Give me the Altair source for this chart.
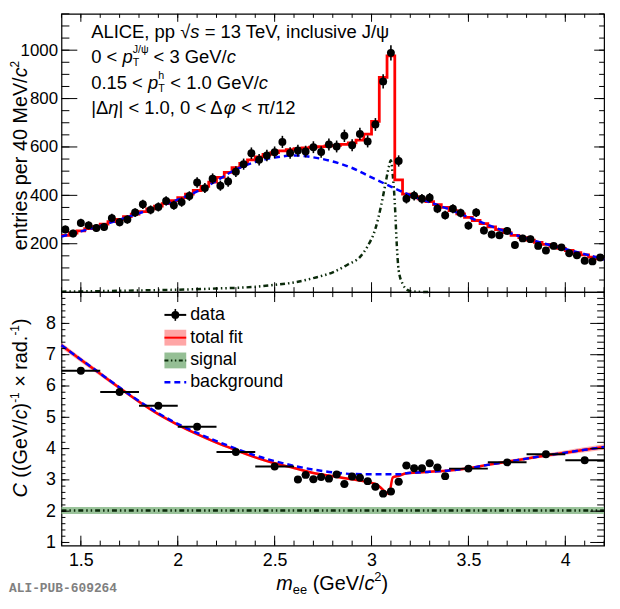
import altair as alt
import pandas as pd
import numpy as np

FONT = "Liberation Sans"
W = 548
H1 = 281
H2 = 256

# ---------------- upper panel data ----------------
centers = [1.42, 1.46, 1.50, 1.54, 1.58, 1.62, 1.66, 1.70, 1.74, 1.78, 1.82, 1.86, 1.90, 1.94, 1.98,
           2.02, 2.06, 2.10, 2.14, 2.18, 2.22, 2.26, 2.30, 2.34, 2.38, 2.42, 2.46, 2.50, 2.54, 2.58,
           2.62, 2.66, 2.70, 2.74, 2.78, 2.82, 2.86, 2.90, 2.94, 2.98,
           3.02, 3.06, 3.10, 3.14, 3.18, 3.22, 3.26, 3.30, 3.34, 3.38, 3.42, 3.46, 3.50, 3.54, 3.58,
           3.62, 3.66, 3.70, 3.74, 3.78, 3.82, 3.86, 3.90, 3.94, 3.98,
           4.02, 4.06, 4.10, 4.14, 4.18]
counts = [259, 242, 286, 276, 265, 269, 306, 289, 300, 329, 363, 340, 352, 377, 359,
          372, 397, 453, 430, 469, 440, 457, 498, 529, 574, 547, 565, 578, 621, 575,
          585, 581, 599, 579, 610, 602, 646, 607, 654, 623,
          693, 871, 989, 542, 386, 399, 386, 390, 345, 318, 345, 327, 275, 329, 255,
          238, 235, 253, 195, 222, 219, 191, 172, 191, 185,
          161, 152, 130, 127, 143]
fit_top = [235, 244, 253, 262, 271, 281, 291, 301, 312, 322, 333, 344, 355, 366, 378,
           391, 405, 420, 437, 455, 474, 495, 515, 532, 547, 559, 569, 577, 584, 589,
           593, 596, 599, 601, 604, 607, 611, 617, 628, 653,
           706, 888, 976, 464, 405, 395, 385, 374, 362, 350, 337, 323, 309, 296, 283,
           270, 258, 246, 235, 225, 215, 206, 197, 189, 181,
           172, 163, 154, 145, 137]
bkg_x = [1.4, 1.5, 1.6, 1.7, 1.8, 1.9, 2.0, 2.1, 2.2, 2.3, 2.4, 2.5, 2.6, 2.7, 2.8,
         2.9, 3.0, 3.1, 3.2, 3.3, 3.4, 3.5, 3.6, 3.7, 3.8, 3.9, 4.0, 4.1, 4.2]
bkg_y = [230, 251, 274, 299, 326, 352, 382, 416, 460, 507, 538, 556, 565, 557, 540,
         513, 474, 436, 400, 372, 342, 310, 278, 248, 222, 199, 178, 157, 135]
sig_x = [1.40, 1.60, 1.80, 2.00, 2.20, 2.40, 2.50, 2.60, 2.70, 2.80, 2.88, 2.94, 2.98, 3.02,
         3.05, 3.07, 3.09, 3.10, 3.11, 3.12, 3.13, 3.14, 3.16, 3.18, 3.20, 3.25, 3.30]
sig_y = [2, 4, 7, 10, 15, 22, 30, 40, 58, 82, 115, 145, 190, 262,
         360, 440, 520, 545, 480, 370, 200, 90, 35, 12, 4, 1, 0]

# ---------------- lower panel data ----------------
c_x = [1.5, 1.7, 1.9, 2.1, 2.3, 2.5,
       2.62, 2.66, 2.70, 2.74, 2.78, 2.82, 2.86, 2.90, 2.94, 2.98,
       3.02, 3.06, 3.10, 3.14, 3.18, 3.22, 3.26, 3.30, 3.34, 3.38,
       3.5, 3.7, 3.9, 4.1]
c_y = [6.49, 5.81, 5.37, 4.70, 3.89, 3.43,
       3.01, 3.16, 3.02, 3.09, 3.04, 3.17, 2.87, 3.11, 3.07, 2.96,
       2.78, 2.56, 2.63, 2.94, 3.46, 3.37, 3.37, 3.53, 3.40, 3.12,
       3.36, 3.56, 3.82, 3.63]
c_dx = [0.1] * 6 + [0.02] * 20 + [0.1] * 4
c_dy = [0.05] * 6 + [0.09] * 20 + [0.05] * 4
fit_x = [1.4, 1.5, 1.6, 1.7, 1.8, 1.9, 2.0, 2.1, 2.2, 2.3, 2.4, 2.5, 2.6, 2.7, 2.8, 2.9,
         2.98, 3.03, 3.06, 3.09, 3.11, 3.14, 3.18, 3.3, 3.4, 3.5, 3.6, 3.7, 3.8, 3.9, 4.0, 4.1, 4.2]
fit_y = [7.30, 6.84, 6.39, 5.94, 5.50, 5.10, 4.76, 4.46, 4.19, 3.95, 3.72, 3.53, 3.38, 3.22, 3.12, 3.02,
         2.93, 2.84, 2.68, 2.55, 3.08, 3.13, 3.21, 3.26, 3.30, 3.37, 3.48, 3.58, 3.68, 3.78, 3.87, 3.96, 4.05]
fit_e = [0.09, 0.08, 0.07, 0.06, 0.05, 0.05, 0.04, 0.04, 0.04, 0.04, 0.04, 0.04, 0.04, 0.04, 0.04, 0.04,
         0.04, 0.04, 0.04, 0.04, 0.04, 0.04, 0.04, 0.04, 0.04, 0.04, 0.04, 0.05, 0.05, 0.06, 0.07, 0.08, 0.09]
bkgC_x = [1.4, 1.5, 1.6, 1.7, 1.8, 1.9, 2.0, 2.1, 2.2, 2.3, 2.4, 2.5, 2.6, 2.7, 2.8,
          2.9, 3.0, 3.1, 3.15, 3.18, 3.3, 3.4, 3.5, 3.6, 3.7, 3.8, 3.9, 4.0, 4.1, 4.2]
bkgC_y = [7.30, 6.85, 6.40, 5.95, 5.52, 5.13, 4.79, 4.50, 4.24, 4.00, 3.78, 3.60, 3.45, 3.33, 3.24,
          3.19, 3.18, 3.18, 3.18, 3.21, 3.26, 3.30, 3.37, 3.48, 3.58, 3.68, 3.78, 3.87, 3.96, 4.05]
sigC_val = 2.02
sigC_lo, sigC_hi = 1.91, 2.13

x_labels = [1.5, 2, 2.5, 3, 3.5, 4]
x_minor = [round(v, 1) for v in np.arange(1.4, 4.2001, 0.1)]
top_y_labels = [200, 400, 600, 800, 1000]
top_y_minor = list(range(50, 1151, 50))
bot_y_labels = [1, 2, 3, 4, 5, 6, 7, 8]
bot_y_minor = [round(v, 1) for v in np.arange(1.0, 9.0001, 0.2)]

# ---------------- scales / axes ----------------
XS = alt.Scale(domain=[1.4, 4.2], nice=False, zero=False)
YS1 = alt.Scale(domain=[0, 1150], nice=False, zero=False)
YS2 = alt.Scale(domain=[0.9, 9.0], nice=False, zero=False)

AX_Y1 = alt.Axis(values=top_y_labels, format="d", ticks=False, domain=False, grid=False,
                 labelFont=FONT, labelFontSize=17, labelColor="black", labelPadding=4, title=None)
AX_Y2 = alt.Axis(values=bot_y_labels, format="d", ticks=False, domain=False, grid=False,
                 labelFont=FONT, labelFontSize=18, labelColor="black", labelPadding=6, title=None)
AX_X2 = alt.Axis(values=x_labels, format="~g", ticks=False, domain=False, grid=False,
                 labelFont=FONT, labelFontSize=18, labelColor="black", labelPadding=6, title=None)


def X1(f):
    return alt.X(f, type="quantitative", scale=XS, axis=None)


def X2(f):
    return alt.X(f, type="quantitative", scale=XS, axis=AX_X2)


def Y1(f):
    return alt.Y(f, type="quantitative", scale=YS1, axis=AX_Y1)


def Y2(f):
    return alt.Y(f, type="quantitative", scale=YS2, axis=AX_Y2)


ONE = pd.DataFrame({"k": [0]})

CW = {' ': .278, '(': .333, ')': .333, ',': .278, '-': .333, '.': .278, '/': .278, '<': .584,
      '=': .584, '|': .26, '×': .584, '√': .549, 'Δ': .668, 'η': .556, 'φ': .68, 'π': .6, 'ψ': .7,
      'A': .667, 'C': .722, 'E': .667, 'G': .778, 'I': .278, 'J': .5, 'L': .556, 'M': .833,
      'T': .611, 'V': .667, 'a': .556, 'b': .556, 'c': .5, 'd': .556, 'e': .556, 'f': .278,
      'g': .556, 'h': .556, 'i': .222, 'k': .5, 'l': .222, 'm': .833, 'n': .556, 'o': .556,
      'p': .556, 'r': .333, 's': .5, 't': .278, 'u': .556, 'v': .5, 'x': .5, 'y': .5}


def tw(s, size):
    return sum(CW.get(ch, .556) for ch in s) * size


def T(x, y, s, size=18, italic=False, angle=0, align="left", color="black", font=FONT, weight="normal"):
    return alt.Chart(ONE).mark_text(
        text=s, font=font, fontSize=size, fontStyle="italic" if italic else "normal",
        fontWeight=weight, align=align, baseline="middle", angle=angle, color=color
    ).encode(x=alt.value(x), y=alt.value(y))


def run(x0, y0, parts, angle=0):
    out = []
    pos = 0.0
    for text, size, italic, shift, adv in parts:
        lead = len(text) - len(text.lstrip(" "))
        off = tw(" " * lead, size)
        shown = text.strip(" ")
        if angle == 0:
            out.append(T(x0 + pos + off, y0 + shift, shown, size, italic))
        else:
            out.append(T(x0 + shift, y0 - pos - off, shown, size, italic, angle=270))
        pos += tw(text, size) if adv is None else adv
    return out


def total(parts):
    return sum(tw(t, s) if a is None else a for t, s, i, sh, a in parts)


def tick_layers(xenc, yenc, H, Lxb, Lxt, Lyl, Lyr, ymaj, ymin):
    out = []

    def xr(vals, y1, y2):
        return alt.Chart(pd.DataFrame({"v": vals})).mark_rule(color="black", strokeWidth=1).encode(
            x=xenc("v"), y=alt.value(y1), y2=alt.value(y2))

    def yr(vals, x1, x2):
        return alt.Chart(pd.DataFrame({"v": vals})).mark_rule(color="black", strokeWidth=1).encode(
            y=yenc("v"), x=alt.value(x1), x2=alt.value(x2))

    out += [xr(x_labels, H, H - Lxb[0]), xr(x_minor, H, H - Lxb[1]),
            xr(x_labels, 0, Lxt[0]), xr(x_minor, 0, Lxt[1])]
    out += [yr(ymaj, 0, Lyl[0]), yr(ymin, 0, Lyl[1]),
            yr(ymaj, W, W - Lyr[0]), yr(ymin, W, W - Lyr[1])]
    return out


# ---------------- upper panel ----------------
err_top = np.sqrt(np.array(counts, dtype=float))
df_top = pd.DataFrame({"x": centers, "y": counts,
                       "lo": np.array(counts) - err_top, "hi": np.array(counts) + err_top})
edges = [round(c - 0.02, 2) for c in centers] + [4.20]
df_step = pd.DataFrame({"x": edges, "y": fit_top + [fit_top[-1]]})
df_bkg = pd.DataFrame({"x": bkg_x, "y": bkg_y})
df_sig = pd.DataFrame({"x": sig_x, "y": sig_y})

SIGCOL = "#0b2b0b"
DASH_SIG = [5, 3, 1.5, 3, 1.5, 3]

top_layers = [
    alt.Chart(df_sig).mark_line(color=SIGCOL, strokeWidth=2.5, strokeDash=DASH_SIG, interpolate="monotone")
    .encode(x=X1("x"), y=Y1("y")),
    alt.Chart(df_step).mark_line(color="#ff0000", strokeWidth=2.8, interpolate="step-after")
    .encode(x=X1("x"), y=Y1("y")),
    alt.Chart(df_bkg).mark_line(color="#0000ff", strokeWidth=2.5, strokeDash=[6, 4], interpolate="monotone")
    .encode(x=X1("x"), y=Y1("y")),
    alt.Chart(df_top).mark_rule(color="black", strokeWidth=1.6)
    .encode(x=X1("x"), y=Y1("lo"), y2=alt.Y2("hi")),
    alt.Chart(df_top).mark_circle(color="black", size=64, opacity=1)
    .encode(x=X1("x"), y=Y1("y")),
]
top_layers += tick_layers(X1, Y1, H1, (10, 5), (8, 4), (16, 8), (10, 5), top_y_labels, top_y_minor)

FS = 18.6
SS = 10.8
x0 = 30
top_layers += run(x0, 18, [("ALICE, pp ", FS, False, 0, None), ("√", FS, False, 0, None),
                          ("s", FS, True, 0, None), (" = 13 TeV, inclusive J/ψ", FS, False, 0, None)])
top_layers += run(x0, 43.5, [("0 < ", FS, False, 0, None), ("p", FS, True, 0, None),
                            ("T", SS, False, 6, 0), ("J/ψ", SS, False, -7, None),
                            (" < 3 GeV/", FS, False, 0, None), ("c", FS, True, 0, None)])
top_layers += run(x0, 69.5, [("0.15 < ", FS, False, 0, None), ("p", FS, True, 0, None),
                            ("T", SS, False, 6, 0), ("h", SS, False, -7, 7),
                            (" < 1.0 GeV/", FS, False, 0, None), ("c", FS, True, 0, None)])
top_layers += run(x0, 95, [("|Δ", FS, False, 0, None), ("η", FS, True, 0, None),
                          ("| < 1.0, 0 < Δ", FS, False, 0, None), ("φ", FS, True, 0, None),
                          (" < π/12", FS, False, 0, None)])
ytitle1 = [("entries per 40 MeV/", 20, False, 0, None), ("c", 20, True, 0, None), ("2", 12, False, -6, None)]
top_layers += run(-41, 143 + total(ytitle1) / 2, ytitle1, angle=270)

top = alt.layer(*top_layers).properties(width=W, height=H1)

# ---------------- lower panel ----------------
df_c = pd.DataFrame({"x": c_x, "y": c_y,
                     "xlo": np.array(c_x) - np.array(c_dx), "xhi": np.array(c_x) + np.array(c_dx),
                     "ylo": np.array(c_y) - np.array(c_dy), "yhi": np.array(c_y) + np.array(c_dy)})
df_fitC = pd.DataFrame({"x": fit_x, "y": fit_y,
                        "lo": np.array(fit_y) - np.array(fit_e), "hi": np.array(fit_y) + np.array(fit_e)})
df_bkgC = pd.DataFrame({"x": bkgC_x, "y": bkgC_y})
df_sigband = pd.DataFrame({"x": [1.4], "x2": [4.2], "lo": [sigC_lo], "hi": [sigC_hi]})
df_sigline = pd.DataFrame({"x": [1.4, 4.2], "y": [sigC_val, sigC_val]})

GREEN = "#8fbc8f"
PINK = "#ff9c9c"

bot_layers = [
    alt.Chart(df_sigband).mark_rect(color=GREEN, opacity=0.9)
    .encode(x=X2("x"), x2=alt.X2("x2"), y=Y2("lo"), y2=alt.Y2("hi")),
    alt.Chart(df_sigline).mark_line(color=SIGCOL, strokeWidth=2.5, strokeDash=DASH_SIG)
    .encode(x=X2("x"), y=Y2("y")),
    alt.Chart(df_fitC).mark_area(color=PINK, opacity=0.8, interpolate="monotone")
    .encode(x=X2("x"), y=Y2("lo"), y2=alt.Y2("hi")),
    alt.Chart(df_fitC).mark_line(color="#ff0000", strokeWidth=2.5, interpolate="monotone")
    .encode(x=X2("x"), y=Y2("y")),
    alt.Chart(df_bkgC).mark_line(color="#0000ff", strokeWidth=2.5, strokeDash=[6, 4], interpolate="monotone")
    .encode(x=X2("x"), y=Y2("y")),
    alt.Chart(df_c).mark_rule(color="black", strokeWidth=2)
    .encode(x=X2("xlo"), x2=alt.X2("xhi"), y=Y2("y")),
    alt.Chart(df_c).mark_rule(color="black", strokeWidth=1.6)
    .encode(x=X2("x"), y=Y2("ylo"), y2=alt.Y2("yhi")),
    alt.Chart(df_c).mark_circle(color="black", size=64, opacity=1)
    .encode(x=X2("x"), y=Y2("y")),
]
bot_layers += tick_layers(X2, Y2, H2, (10, 5), (10, 5), (8, 4), (14, 7), bot_y_labels, bot_y_minor)

# legend
lx1, lx2, lxc, ltx = 104, 126, 115, 130
ry = [23, 46, 69, 91]
bot_layers += [
    alt.Chart(ONE).mark_rule(color="black", strokeWidth=2)
    .encode(x=alt.value(lx1), x2=alt.value(lx2), y=alt.value(ry[0])),
    alt.Chart(ONE).mark_rule(color="black", strokeWidth=1.6)
    .encode(x=alt.value(lxc), y=alt.value(ry[0] - 6), y2=alt.value(ry[0] + 6)),
    alt.Chart(ONE).mark_circle(color="black", size=64, opacity=1)
    .encode(x=alt.value(lxc), y=alt.value(ry[0])),
    alt.Chart(ONE).mark_rect(color=PINK, opacity=0.9)
    .encode(x=alt.value(lx1), x2=alt.value(lx2), y=alt.value(ry[1] - 8), y2=alt.value(ry[1] + 8)),
    alt.Chart(ONE).mark_rule(color="#ff0000", strokeWidth=2)
    .encode(x=alt.value(lx1), x2=alt.value(lx2), y=alt.value(ry[1])),
    alt.Chart(ONE).mark_rect(color=GREEN, opacity=0.95)
    .encode(x=alt.value(lx1), x2=alt.value(lx2), y=alt.value(ry[2] - 8), y2=alt.value(ry[2] + 8)),
    alt.Chart(ONE).mark_rule(color=SIGCOL, strokeWidth=2, strokeDash=[4, 2.5, 1.5, 2.5, 1.5, 2.5])
    .encode(x=alt.value(lx1), x2=alt.value(lx2), y=alt.value(ry[2])),
    alt.Chart(ONE).mark_rule(color="#0000ff", strokeWidth=2.5, strokeDash=[6, 4])
    .encode(x=alt.value(lx1), x2=alt.value(lx2), y=alt.value(ry[3])),
    T(ltx, ry[0], "data"), T(ltx, ry[1], "total fit"),
    T(ltx, ry[2], "signal"), T(ltx, ry[3], "background"),
]

ytitle2 = [("C", 20, True, 0, None), (" ((GeV/", 20, False, 0, None), ("c", 20, True, 0, None),
           (")", 20, False, 0, None), ("-1", 12, False, -6, None), (" × rad.", 20, False, 0, None),
           ("-1", 12, False, -6, None), (")", 20, False, 0, None)]
bot_layers += run(-41, 117 + total(ytitle2) / 2, ytitle2, angle=270)

xtitle = [("m", 20, True, 0, None), ("ee", 13, False, 6, None), (" (GeV/", 20, False, 0, None),
          ("c", 20, True, 0, None), ("2", 13, False, -7, None), (")", 20, False, 0, None)]
bot_layers += run(217, H2 + 39, xtitle)

bot_layers += [T(-53, H2 + 43, "ALI-PUB-609264", 13, font="Liberation Mono", weight="bold", color="#808080")]

bot = alt.layer(*bot_layers).properties(width=W, height=H2)

chart = alt.vconcat(top, bot, spacing=0, bounds="flush").properties(
    padding={"left": 0, "right": 1, "top": 1, "bottom": 0}
).configure_view(stroke="black", strokeWidth=1.2)

chart.save("out.html", embed_options={"renderer": "svg", "actions": False})
